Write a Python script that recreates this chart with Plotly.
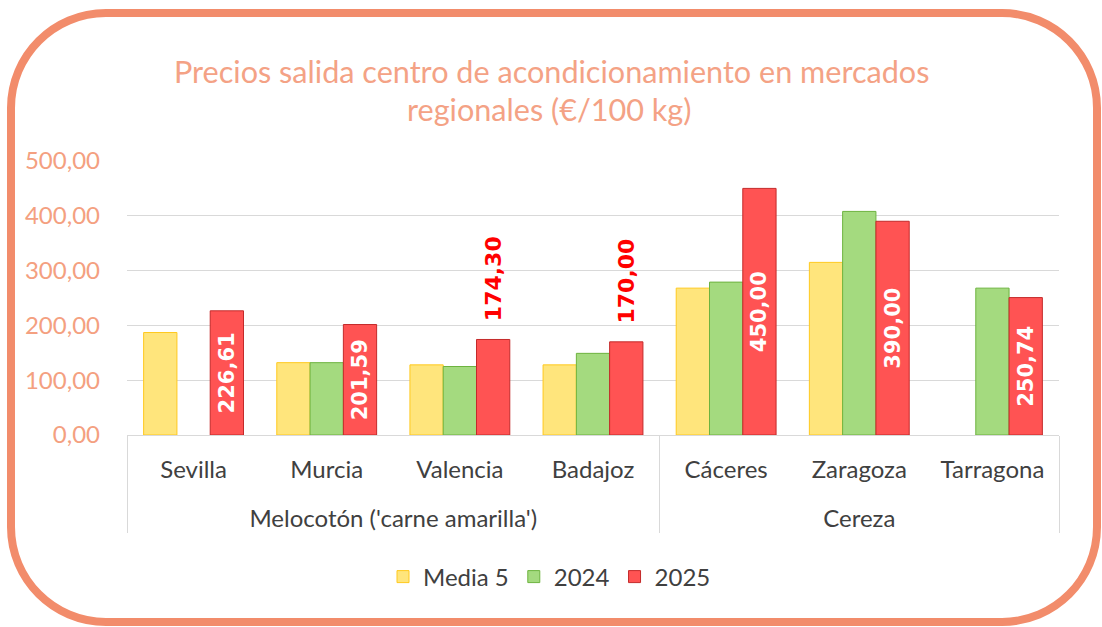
import plotly.graph_objects as go

groups = ["Melocotón ('carne amarilla')"] * 4 + ["Cereza"] * 3
cities = ["Sevilla", "Murcia", "Valencia", "Badajoz", "Cáceres", "Zaragoza", "Tarragona"]
media5 = [187, 132, 128, 128, 268, 315, None]
y2024 = [None, 132, 125, 149, 279, 408, 268]
y2025 = [226.61, 201.59, 174.30, 170.00, 450.00, 390.00, 250.74]
label_pos = ["inside", "inside", "outside", "outside", "inside", "inside", "inside"]
yticks = [0, 100, 200, 300, 400, 500]
ytick_text = ["0,00", "100,00", "200,00", "300,00", "400,00", "500,00"]

W, H = 1102, 627
L, R, T, B = 127, 1059, 161, 435

def px(x):
    return (x - L) / (R - L)

def py(y):
    return (B - y) / (B - T)

def fmt(v, pos):
    s = f"{v:.2f}".replace(".", ",")
    # outside labels sit a little above the bar end, as in the reference
    return "\u00a0\u00a0" + s if pos == "outside" else s

# secondary (group) labels pushed one line lower to match the reference spacing
group_labels = ["<br>" + g for g in groups]

fig = go.Figure()
fig.add_trace(go.Bar(x=[group_labels, cities], y=media5, name="Media 5",
                     marker=dict(color="#FFE57C", line=dict(color="#FFC91E", width=1))))
fig.add_trace(go.Bar(x=[group_labels, cities], y=y2024, name="2024",
                     marker=dict(color="#A4DA7F", line=dict(color="#6DB33F", width=1))))
fig.add_trace(go.Bar(x=[group_labels, cities], y=y2025, name="2025",
                     marker=dict(color="#FF5353", line=dict(color="#C42A2A", width=1)),
                     text=[fmt(v, p) for v, p in zip(y2025, label_pos)], textposition=label_pos,
                     textangle=-90, insidetextanchor="middle", constraintext="none",
                     insidetextfont=dict(family="DejaVu Sans", size=21, color="white", weight="bold"),
                     outsidetextfont=dict(family="DejaVu Sans", size=22, color="#FF0000", weight="bold"),
                     cliponaxis=False))

# rounded border
x0, x1, y0, y1, r = 11, 1097, 13, 622, 95
k = 0.5523 * r
path = (
    f"M {px(x0 + r)} {py(y0)} L {px(x1 - r)} {py(y0)} "
    f"C {px(x1 - r + k)} {py(y0)} {px(x1)} {py(y0 + r - k)} {px(x1)} {py(y0 + r)} "
    f"L {px(x1)} {py(y1 - r)} "
    f"C {px(x1)} {py(y1 - r + k)} {px(x1 - r + k)} {py(y1)} {px(x1 - r)} {py(y1)} "
    f"L {px(x0 + r)} {py(y1)} "
    f"C {px(x0 + r - k)} {py(y1)} {px(x0)} {py(y1 - r + k)} {px(x0)} {py(y1 - r)} "
    f"L {px(x0)} {py(y0 + r)} "
    f"C {px(x0)} {py(y0 + r - k)} {px(x0 + r - k)} {py(y0)} {px(x0 + r)} {py(y0)} Z"
)
fig.add_shape(type="path", path=path, xref="paper", yref="paper",
              line=dict(color="#F28C6B", width=8), layer="below")

title_color = "#F4A285"
fig.add_annotation(text="Precios salida centro de acondicionamiento en mercados",
                   xref="paper", yref="paper", x=px(551), y=py(71), yanchor="middle",
                   showarrow=False, font=dict(family="Lato", size=30.6, color=title_color))
fig.add_annotation(text="regionales (€/100 kg)",
                   xref="paper", yref="paper", x=px(549), y=py(109), yanchor="middle",
                   showarrow=False, font=dict(family="Lato", size=30.6, color=title_color))

fig.update_layout(
    width=W, height=H,
    margin=dict(l=L, r=W - R, t=T, b=H - B, autoexpand=False),
    paper_bgcolor="white", plot_bgcolor="white",
    barmode="group", bargap=0.25, bargroupgap=0,
    showlegend=True,
    legend=dict(orientation="h", x=px(383), y=py(577), xanchor="left", yanchor="middle",
                font=dict(family="Lato", size=24, color="#404040"), itemwidth=30,
                traceorder="normal"),
    font=dict(family="Lato", color="#404040"),
)
fig.update_yaxes(range=[0, 500], tickvals=yticks, ticktext=ytick_text,
                 showgrid=True, gridcolor="#D9D9D9", gridwidth=1, zeroline=False,
                 showline=False, ticklabelstandoff=26,
                 tickfont=dict(family="Lato", size=24, color="#F4A080"))
fig.update_xaxes(type="multicategory", showline=True, linecolor="#D9D9D9", linewidth=1,
                 showdividers=True, dividercolor="#D9D9D9", dividerwidth=1,
                 ticklabelstandoff=13,
                 tickfont=dict(family="Lato", size=24, color="#404040"), ticks="")

fig.write_html("out.html", config={"displayModeBar": False},
               post_script="document.body.style.margin='0';")
